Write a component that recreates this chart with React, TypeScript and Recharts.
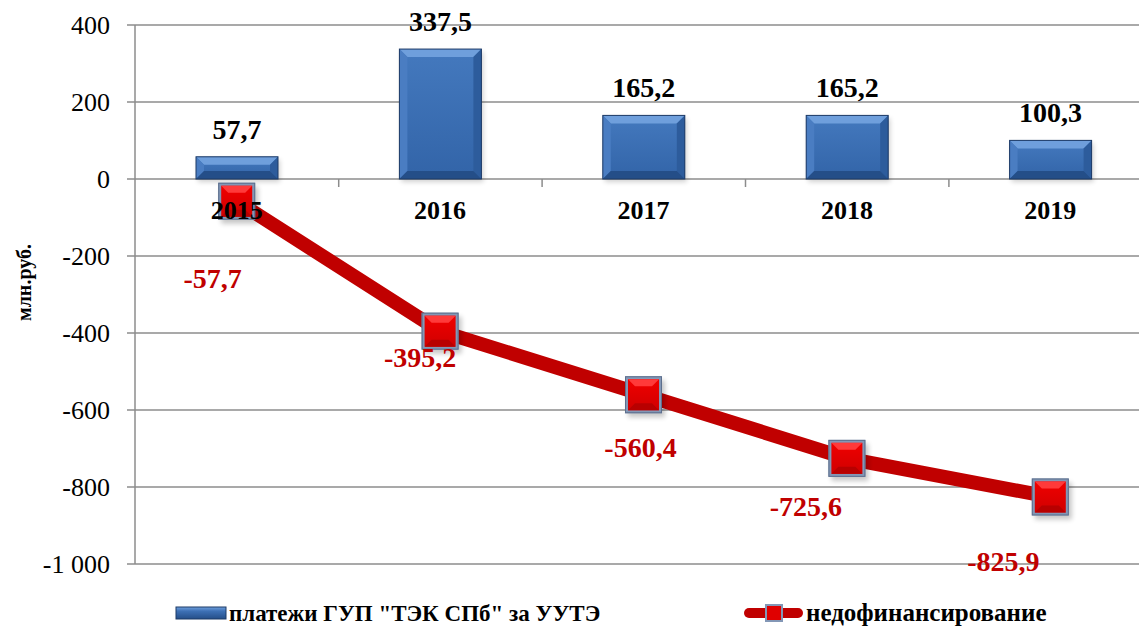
import { Bar, CartesianGrid, ComposedChart, LabelList, Line, ReferenceDot, XAxis, YAxis } from "recharts";

const YEARS = ["2015", "2016", "2017", "2018", "2019"];
const PAYMENTS = [57.7, 337.5, 165.2, 165.2, 100.3];
const SHORTFALL = [-57.7, -395.2, -560.4, -725.6, -825.9];
const Y_TICKS = [-1000, -800, -600, -400, -200, 0, 200, 400];

// manual nudges for the red value labels (Excel placed them by hand)
const SHORTFALL_LABEL_NUDGE: [number, number][] = [
  [-24, 77],
  [-20, 26],
  [-3, 53],
  [-41, 48],
  [-47, 65],
];

const data = YEARS.map((year, i) => ({ year, pay: PAYMENTS[i], gap: SHORTFALL[i] }));

const FONT = "'Liberation Serif', 'Times New Roman', serif";
const CHART_W = 1160;
const CHART_H = 628;
const MARGIN = { top: 25, right: 8, bottom: 64, left: 0 };
const Y_AXIS_W = 135;
const BAND = (CHART_W - MARGIN.left - MARGIN.right - Y_AXIS_W) / YEARS.length;
const GRID = "#8c8c8c";

const fmtValue = (v: number) => v.toFixed(1).replace(".", ",");
const fmtTick = (v: number) =>
  (v < 0 ? "-" : "") + Math.abs(v).toString().replace(/\B(?=(\d{3})+(?!\d))/g, " ");

function BevelBar(props: any) {
  const { x, y, width: w, height: h } = props;
  if (w == null || h == null) return null;
  const b = Math.min(8, h / 2.5);
  const tickX = x + w / 2 + BAND / 2;
  return (
    <g>
      <rect x={x + 2} y={y + 3} width={w} height={h} fill="#000" opacity={0.18} filter="url(#softShadow)" />
      <rect x={x} y={y} width={w} height={h} fill="url(#barFace)" />
      <polygon points={`${x},${y} ${x + w},${y} ${x + w - b},${y + b} ${x + b},${y + b}`} fill="#6f9fdc" />
      <polygon points={`${x},${y} ${x + b},${y + b} ${x + b},${y + h - b} ${x},${y + h}`} fill="#4a7dc2" />
      <polygon points={`${x + w},${y} ${x + w - b},${y + b} ${x + w - b},${y + h - b} ${x + w},${y + h}`} fill="#2d5c9c" />
      <polygon points={`${x},${y + h} ${x + b},${y + h - b} ${x + w - b},${y + h - b} ${x + w},${y + h}`} fill="#244e88" />
      <rect x={x} y={y} width={w} height={h} fill="none" stroke="#1d3a66" strokeWidth={1} />
      <line x1={tickX} x2={tickX} y1={y + h} y2={y + h + 8} stroke={GRID} strokeWidth={1.5} />
    </g>
  );
}

function SquareMarker(props: any) {
  const { cx, cy } = props;
  if (cx == null || cy == null) return null;
  const s = 37;
  const x = cx - s / 2;
  const y = cy - s / 2;
  const b = 7;
  return (
    <g>
      <rect x={x + 3} y={y + 4} width={s} height={s} fill="#000" opacity={0.22} filter="url(#softShadow)" />
      <rect x={x} y={y} width={s} height={s} fill="#8397b6" />
      <rect x={x + 3} y={y + 3} width={s - 6} height={s - 6} fill="url(#markerFace)" />
      <polygon
        points={`${x + 3},${y + 3} ${x + s - 3},${y + 3} ${x + s - 3 - b},${y + 3 + b} ${x + 3 + b},${y + 3 + b}`}
        fill="#ff3a3a"
      />
      <polygon
        points={`${x + 3},${y + s - 3} ${x + 3 + b},${y + s - 3 - b} ${x + s - 3 - b},${y + s - 3 - b} ${x + s - 3},${y + s - 3}`}
        fill="#b80000"
      />
      <rect x={x + 0.5} y={y + 0.5} width={s - 1} height={s - 1} fill="none" stroke="#5d6f8d" strokeWidth={1} />
    </g>
  );
}

function ShortfallLabel(props: any) {
  const { x, y, value, index } = props;
  const [dx, dy] = SHORTFALL_LABEL_NUDGE[index] ?? [0, 40];
  return (
    <text
      x={x + dx}
      y={y + dy}
      textAnchor="middle"
      dominantBaseline="central"
      style={{ fontFamily: FONT }}
      fontWeight="bold"
      fontSize={28}
      fill="#c00000"
    >
      {fmtValue(Number(value))}
    </text>
  );
}

function AxisTitle(props: any) {
  const { viewBox } = props;
  const cx = 24;
  const cy = viewBox.y + viewBox.height / 2 - 12;
  return (
    <text
      x={cx}
      y={cy}
      transform={`rotate(-90 ${cx} ${cy})`}
      textAnchor="middle"
      dominantBaseline="central"
      style={{ fontFamily: FONT }}
      fontWeight="bold"
      fontSize={20}
      fill="#000"
    >
      млн.руб.
    </text>
  );
}

function LegendBox() {
  return (
    <svg width={1139} height={40} style={{ position: "absolute", left: 0, top: 594 }}>
      <defs>
        <linearGradient id="legBar" x1="0" y1="0" x2="0" y2="1">
          <stop offset="0" stopColor="#6f9fdc" />
          <stop offset="0.35" stopColor="#3d70b5" />
          <stop offset="1" stopColor="#244e88" />
        </linearGradient>
      </defs>
      <rect x={176} y={13} width={50} height={12} fill="url(#legBar)" stroke="#1d3a66" strokeWidth={1} />
      <text x={229} y={27} fontWeight="bold" fontSize={23} fill="#000" style={{ fontFamily: FONT }}>
        платежи ГУП "ТЭК СПб" за УУТЭ
      </text>
      <line x1={749} x2={798} y1={19} y2={19} stroke="#c00000" strokeWidth={10} strokeLinecap="round" />
      <rect x={765} y={10} width={18} height={18} fill="#8397b6" />
      <rect x={767} y={12} width={14} height={14} fill="#e00000" />
      <text x={806} y={27} fontWeight="bold" fontSize={25} fill="#000" style={{ fontFamily: FONT }}>
        недофинансирование
      </text>
    </svg>
  );
}

export default function App() {
  return (
    <div
      style={{
        position: "fixed",
        left: 0,
        top: 0,
        width: 1139,
        height: 628,
        overflow: "hidden",
        background: "#fff",
      }}
    >
      <ComposedChart width={CHART_W} height={CHART_H} data={data} margin={MARGIN}>
        <defs>
          <linearGradient id="barFace" x1="0" y1="0" x2="0" y2="1">
            <stop offset="0" stopColor="#4479be" />
            <stop offset="1" stopColor="#3264a8" />
          </linearGradient>
          <linearGradient id="markerFace" x1="0" y1="0" x2="0" y2="1">
            <stop offset="0" stopColor="#f00000" />
            <stop offset="1" stopColor="#d00000" />
          </linearGradient>
          <filter id="softShadow" x="-20%" y="-20%" width="140%" height="140%">
            <feGaussianBlur stdDeviation="2.5" />
          </filter>
        </defs>
        <CartesianGrid vertical={false} stroke={GRID} strokeWidth={1.5} />
        <XAxis dataKey="year" hide />
        <YAxis
          width={Y_AXIS_W}
          domain={[-1000, 400]}
          ticks={Y_TICKS}
          tickFormatter={fmtTick}
          axisLine={{ stroke: GRID, strokeWidth: 1.5 }}
          tickLine={{ stroke: GRID, strokeWidth: 1.5 }}
          tickSize={8}
          tickMargin={17}
          tick={{ fill: "#000", fontSize: 26, style: { fontFamily: FONT } }}
          label={<AxisTitle />}
        />
        <Bar dataKey="pay" barSize={82} shape={<BevelBar />} isAnimationActive={false}>
          <LabelList
            dataKey="pay"
            position="top"
            offset={18}
            formatter={(v: any) => fmtValue(Number(v))}
            style={{ fill: "#000", fontSize: 28, fontWeight: "bold", fontFamily: FONT }}
          />
        </Bar>
        <Line
          dataKey="gap"
          type="linear"
          stroke="#c00000"
          strokeWidth={14}
          dot={<SquareMarker />}
          activeDot={false}
          isAnimationActive={false}
        >
          <LabelList dataKey="gap" content={<ShortfallLabel />} />
        </Line>
        {YEARS.map((year) => (
          <ReferenceDot
            key={year}
            x={year}
            y={0}
            r={0}
            fill="none"
            stroke="none"
            label={{
              value: year,
              position: "bottom",
              offset: 22,
              fill: "#000",
              fontSize: 26,
              fontWeight: "bold",
              style: { fontFamily: FONT },
            }}
          />
        ))}
      </ComposedChart>
      <LegendBox />
    </div>
  );
}
